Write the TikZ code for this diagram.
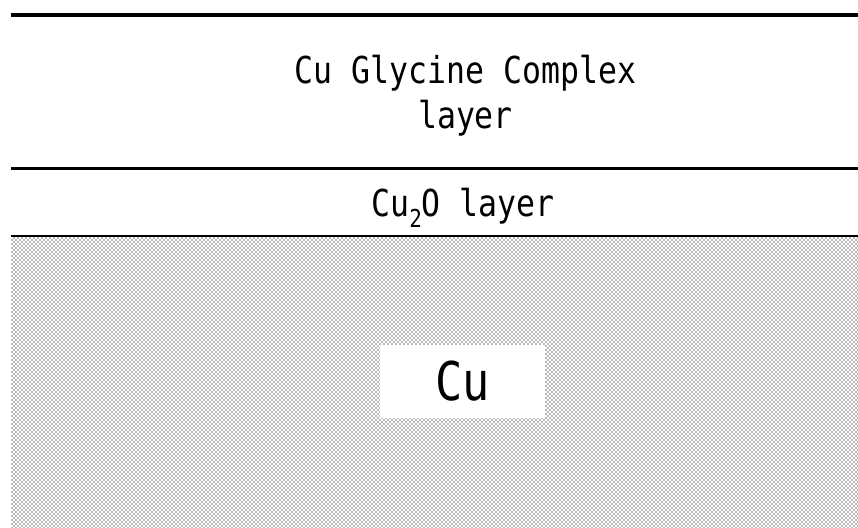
\documentclass[tikz,border=0pt]{standalone}
\usepackage{fontspec}
\usepackage{tikz}
\usetikzlibrary{patterns.meta}

\newfontfamily\layerfont{DejaVu Sans Mono}[FakeStretch=0.85]
% lowered index for the oxide formula
\newcommand{\subidx}[1]{\raisebox{-8.25pt}{\fontsize{18.5pt}{18.5pt}\selectfont #1}}

\tikzset{
  layer label/.style={font=\layerfont\fontsize{27.8pt}{33.75pt}\selectfont, inner sep=0pt, align=center},
  metal label/.style={font=\layerfont\fontsize{40pt}{40pt}\selectfont, inner sep=0pt, fill=white},
  metal fill/.style={pattern={Dots[distance=2.12132pt, angle=45, radius=0.6pt]}, pattern color=black!65}
}

\begin{document}
\begin{tikzpicture}[x=0.75pt,y=0.75pt,yscale=-1,xscale=1]
    \useasboundingbox (0,0) rectangle (858,528);

    %Shape: Rectangle [id:copper bulk]
    \fill[metal fill] (11,237) rectangle (858,528);

    %Straight Lines [id:top surface]
    \draw[line width=3pt]   (11,15.3) -- (858,15.3) ;
    %Straight Lines [id:complex / oxide boundary]
    \draw[line width=1.9pt] (11,168.3) -- (858,168.3) ;
    %Straight Lines [id:oxide / metal boundary]
    \draw[line width=1.9pt] (11,236.2) -- (858,236.2) ;

    % Text Node (base sits on the last line)
    \node (complex) [layer label, anchor=base] at (465.5,128) {Cu Glycine Complex\\layer};
    % Text Node
    \node (oxide) [layer label, anchor=base] at (463,217) {Cu\subidx{2}O layer};
    % Text Node
    \node (metal) [metal label, minimum width=123.75pt, minimum height=54.75pt] at (462.5,381.5) {Cu};

\end{tikzpicture}
\end{document}
